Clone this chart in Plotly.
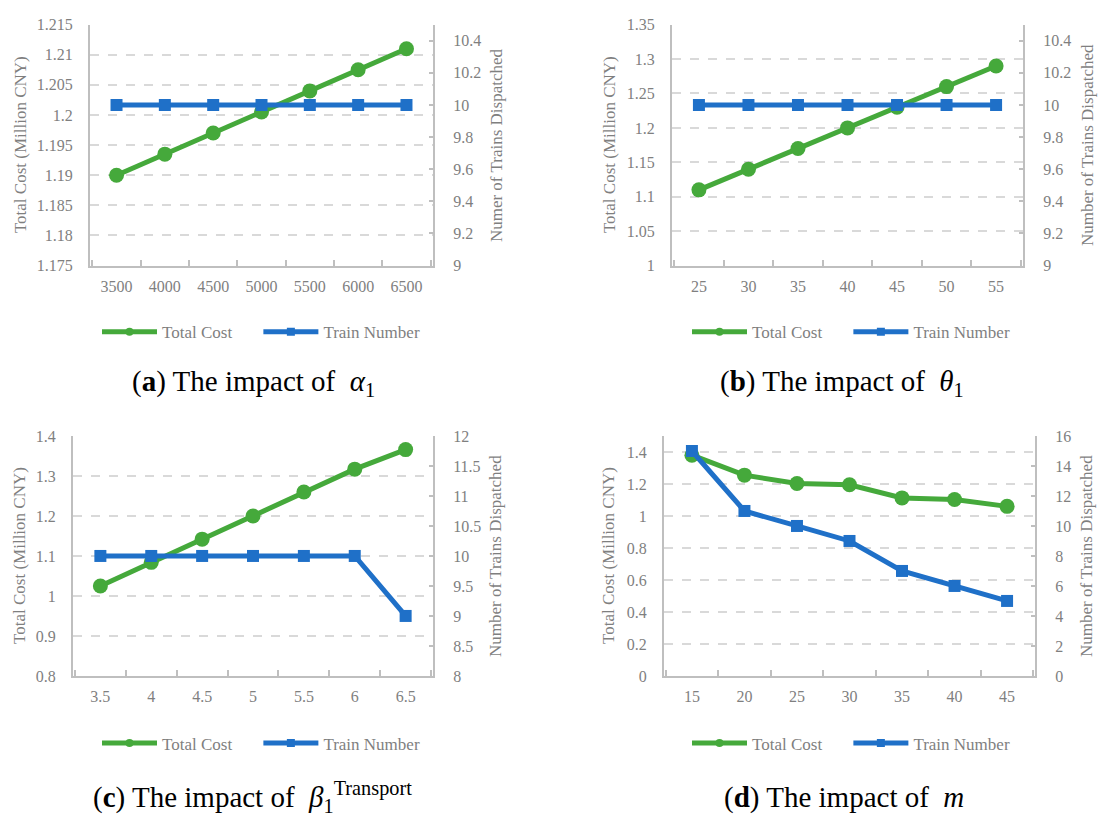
import plotly.graph_objects as go

W, H = 1099, 824

# ---------------- data ----------------
a_x = ["3500", "4000", "4500", "5000", "5500", "6000", "6500"]
a_cost = [1.190, 1.1935, 1.197, 1.2005, 1.204, 1.2075, 1.211]
a_trains = [10, 10, 10, 10, 10, 10, 10]

b_x = ["25", "30", "35", "40", "45", "50", "55"]
b_cost = [1.11, 1.14, 1.17, 1.20, 1.23, 1.26, 1.29]
b_trains = [10, 10, 10, 10, 10, 10, 10]

c_x = ["3.5", "4", "4.5", "5", "5.5", "6", "6.5"]
c_cost = [1.025, 1.084, 1.142, 1.20, 1.26, 1.317, 1.366]
c_trains = [10, 10, 10, 10, 10, 10, 9]

d_x = ["15", "20", "25", "30", "35", "40", "45"]
d_cost = [1.38, 1.255, 1.203, 1.195, 1.113, 1.103, 1.06]
d_trains = [15, 11, 10, 9, 7, 6, 5]

series_names = ["Total Cost", "Train Number"]
left_title = "Total Cost (Million CNY)"
right_titles = ["Numer of Trains Dispatched", "Number of Trains Dispatched",
                "Number of Trains Dispatched", "Number of Trains Dispatched"]
captions = [
    "(<b>a</b>) The impact of \u00a0<i>α</i><sub>1</sub>",
    "(<b>b</b>) The impact of \u00a0<i>θ</i><sub>1</sub>",
    "(<b>c</b>) The impact of \u00a0<i>β</i><sub>1</sub><sup>Transport</sup>",
    "(<b>d</b>) The impact of \u00a0<i>m</i>",
]

# ---------------- styling ----------------
FONT = "Liberation Serif"
GREEN = "#45A93B"
BLUE = "#1F70C8"
GRAY_TXT = "#7f7f7f"
AXIS_C = "#bfbfbf"
GRID_C = "#d9d9d9"

panels = [
    dict(x=a_x, cost=a_cost, tr=a_trains, xd=[90, 433], yd=[17, 263],
         lr=[1.175, 1.215], ld=0.005, rr=[9, 10.5], rd=0.2),
    dict(x=b_x, cost=b_cost, tr=b_trains, xd=[672, 1023], yd=[17, 263],
         lr=[1.0, 1.35], ld=0.05, rr=[9, 10.5], rd=0.2),
    dict(x=c_x, cost=c_cost, tr=c_trains, xd=[73, 433], yd=[437, 682],
         lr=[0.8, 1.4], ld=0.1, rr=[8, 12], rd=0.5),
    dict(x=d_x, cost=d_cost, tr=d_trains, xd=[664, 1035], yd=[437, 682],
         lr=[0, 1.5], ld=0.2, rr=[0, 16], rd=2),
]

fig = go.Figure()
layout = dict(
    width=W, height=H, autosize=False,
    margin=dict(l=0, r=0, t=0, b=0),
    paper_bgcolor="white", plot_bgcolor="white",
    font=dict(family=FONT, color=GRAY_TXT, size=16),
    annotations=[],
)

legend_pos = [(261, 331), (851, 331), (261, 751), (851, 751)]
caption_pos = [(253, 383), (842, 383), (252, 806), (844, 806)]
ltitle_x = [20, 609, 20, 609]
rtitle_x = [496, 1087, 496, 1087]

for i, p in enumerate(panels):
    n = i + 1
    xa = "x" if n == 1 else f"x{n}"
    yl = f"y{2*n-1}" if n > 1 else "y"
    yr = f"y{2*n}"
    leg = "legend" if n == 1 else f"legend{n}"

    fig.add_trace(go.Scatter(
        x=p["x"], y=p["cost"], name=series_names[0], mode="lines+markers",
        line=dict(color=GREEN, width=5),
        marker=dict(symbol="circle", size=15, color=GREEN),
        xaxis=xa, yaxis=yl, showlegend=False))
    fig.add_trace(go.Scatter(
        x=p["x"], y=p["tr"], name=series_names[1], mode="lines+markers",
        line=dict(color=BLUE, width=5),
        marker=dict(symbol="square", size=12, color=BLUE),
        xaxis=xa, yaxis=yr, showlegend=False))
    # legend entries (smaller markers, as in the reference legend)
    fig.add_trace(go.Scatter(
        x=[None], y=[None], name=series_names[0] + "\u00a0" * 5, mode="lines+markers",
        line=dict(color=GREEN, width=5),
        marker=dict(symbol="circle", size=8, color=GREEN),
        xaxis=xa, yaxis=yl, legend=leg, hoverinfo="skip"))
    fig.add_trace(go.Scatter(
        x=[None], y=[None], name=series_names[1], mode="lines+markers",
        line=dict(color=BLUE, width=5),
        marker=dict(symbol="square", size=8, color=BLUE),
        xaxis=xa, yaxis=yr, legend=leg, hoverinfo="skip"))

    xdom = [p["xd"][0] / W, p["xd"][1] / W]
    ydom = [1 - p["yd"][1] / H, 1 - p["yd"][0] / H]

    xkey = "xaxis" if n == 1 else f"xaxis{n}"
    ylkey = "yaxis" if n == 1 else f"yaxis{2*n-1}"
    yrkey = f"yaxis{2*n}"

    layout[xkey] = dict(
        domain=xdom, anchor=yl, type="category",
        showline=True, linecolor=AXIS_C, linewidth=2,
        ticks="inside", tickson="boundaries", ticklen=6, tickcolor=AXIS_C, tickwidth=1.5,
        showgrid=False, zeroline=False, ticklabelstandoff=5,
        tickfont=dict(family=FONT, size=16, color=GRAY_TXT),
    )
    layout[ylkey] = dict(
        domain=ydom, anchor=xa, range=p["lr"], dtick=p["ld"], tick0=p["lr"][0],
        tickformat=".4~g",
        showline=True, linecolor=AXIS_C, linewidth=2,
        ticks="", showgrid=True, gridcolor=GRID_C, griddash="dash", gridwidth=1.5,
        zeroline=False, ticklabelstandoff=12,
        tickfont=dict(family=FONT, size=16, color=GRAY_TXT),
    )
    layout[yrkey] = dict(
        domain=ydom, anchor=xa, overlaying=yl, side="right",
        range=p["rr"], dtick=p["rd"], tick0=p["rr"][0], tickformat=".4~g",
        showline=True, linecolor=AXIS_C, linewidth=2,
        ticks="inside", ticklen=4, tickcolor=AXIS_C, tickwidth=1.5,
        showgrid=False, zeroline=False, ticklabelstandoff=15,
        tickfont=dict(family=FONT, size=16, color=GRAY_TXT),
    )

    lx, ly = legend_pos[i]
    layout[leg] = dict(
        orientation="h", x=lx / W, y=1 - ly / H, xanchor="center", yanchor="middle",
        xref="paper", yref="paper",
        font=dict(family=FONT, size=17, color=GRAY_TXT),
        bgcolor="rgba(0,0,0,0)", itemwidth=55, traceorder="normal",
    )

    cy = (p["yd"][0] + p["yd"][1]) / 2
    layout["annotations"].append(dict(
        text=left_title, textangle=-90, xref="paper", yref="paper",
        x=ltitle_x[i] / W, y=1 - cy / H, xanchor="center", yanchor="middle",
        showarrow=False, font=dict(family=FONT, size=17, color=GRAY_TXT)))
    layout["annotations"].append(dict(
        text=right_titles[i], textangle=-90, xref="paper", yref="paper",
        x=rtitle_x[i] / W, y=1 - cy / H, xanchor="center", yanchor="middle",
        showarrow=False, font=dict(family=FONT, size=17, color=GRAY_TXT)))
    cx, cyy = caption_pos[i]
    layout["annotations"].append(dict(
        text=captions[i], xref="paper", yref="paper",
        x=cx / W, y=1 - cyy / H, xanchor="center", yanchor="middle",
        showarrow=False, font=dict(family=FONT, size=29, color="black")))

fig.update_layout(**layout)
fig.write_html(
    "out.html",
    config={"displayModeBar": False},
    post_script="document.body.style.margin='0';document.body.style.overflow='hidden';",
)
